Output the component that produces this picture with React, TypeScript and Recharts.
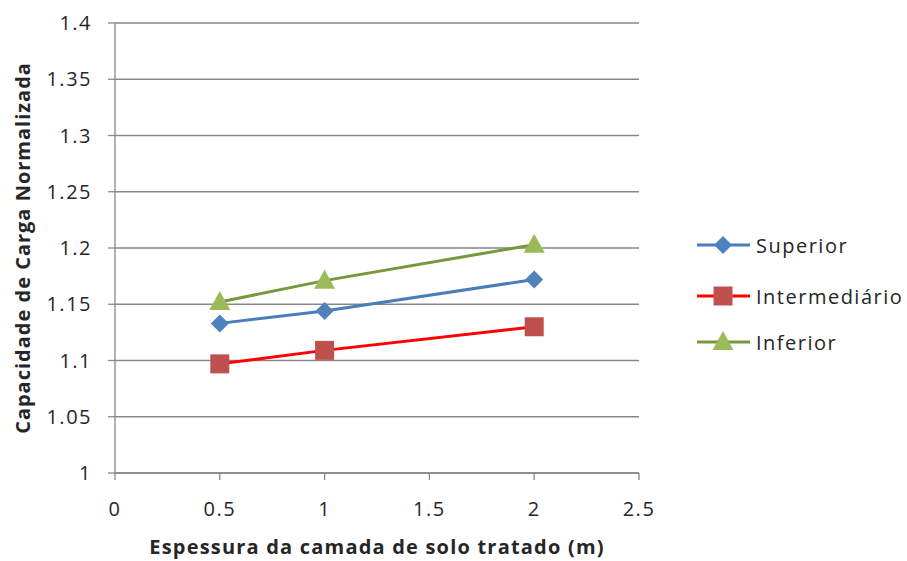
import React from 'react';
import { LineChart, Line, XAxis, YAxis, CartesianGrid } from 'recharts';

const xValues = [0.5, 1, 2];
const superior = [1.133, 1.144, 1.172];
const intermediario = [1.097, 1.109, 1.13];
const inferior = [1.152, 1.171, 1.203];

const xTicks = [0, 0.5, 1, 1.5, 2, 2.5];
const yTicks = [1, 1.05, 1.1, 1.15, 1.2, 1.25, 1.3, 1.35, 1.4];

const seriesNames = ['Superior', 'Intermediário', 'Inferior'];
const xTitle = 'Espessura da camada de solo tratado (m)';
const yTitle = 'Capacidade de Carga Normalizada';

const data = xValues.map((x, i) => ({
  x,
  Superior: superior[i],
  'Intermediário': intermediario[i],
  Inferior: inferior[i],
}));

const FONT = '"Open Sans", sans-serif';
const TEXT = '#262626';
const GRID = '#878787';

const styles: Record<string, { line: string; fill: string; shape: string }> = {
  Superior: { line: '#4A7EBB', fill: '#4F81BD', shape: 'diamond' },
  'Intermediário': { line: '#FF0000', fill: '#C0504D', shape: 'square' },
  Inferior: { line: '#77983D', fill: '#9BBB59', shape: 'triangle' },
};

function Marker({ cx, cy, shape, fill }: { cx: number; cy: number; shape: string; fill: string }) {
  if (cx == null || cy == null || isNaN(cx) || isNaN(cy)) return null;
  if (shape === 'diamond') {
    const r = 9;
    return <path d={`M${cx},${cy - r}L${cx + r},${cy}L${cx},${cy + r}L${cx - r},${cy}Z`} fill={fill} />;
  }
  if (shape === 'square') {
    const h = 9.5;
    return <rect x={cx - h} y={cy - h} width={2 * h} height={2 * h} fill={fill} />;
  }
  const w = 10.5;
  return <path d={`M${cx},${cy - 11}L${cx + w},${cy + 8}L${cx - w},${cy + 8}Z`} fill={fill} />;
}

function makeDot(name: string) {
  const s = styles[name];
  return (props: any) => (
    <Marker key={`${name}-${props.index}`} cx={props.cx} cy={props.cy} shape={s.shape} fill={s.fill} />
  );
}

function LegendBox() {
  return (
    <div style={{ position: 'absolute', left: 695, top: 233, fontFamily: FONT, fontSize: 20, color: TEXT }}>
      {seriesNames.map((n, i) => {
        const s = styles[n];
        return (
          <div key={n} style={{ display: 'flex', alignItems: 'center', height: 24, marginBottom: i === 0 ? 27 : 22 }}>
            <svg width={58} height={24} style={{ display: 'block' }}>
              <line x1={2} y1={12} x2={55} y2={12} stroke={s.line} strokeWidth={3} />
              <Marker cx={28} cy={12} shape={s.shape} fill={s.fill} />
            </svg>
            <span style={{ marginLeft: 3, letterSpacing: 1.5 }}>{n}</span>
          </div>
        );
      })}
    </div>
  );
}

const fmt = (v: number) => String(Number(v.toFixed(2)));

export default function App() {
  return (
    <div style={{ position: 'absolute', left: 0, top: 0, width: 907, height: 561, background: '#fff' }}>
      <LineChart width={907} height={561} data={data} margin={{ top: 23, right: 268, bottom: 3, left: 0 }}>
        <CartesianGrid horizontal={true} vertical={false} stroke={GRID} strokeWidth={1.3} />
        <XAxis
          dataKey="x"
          type="number"
          domain={[0, 2.5]}
          ticks={xTicks}
          tickFormatter={fmt}
          height={85}
          tickSize={7}
          tickMargin={22}
          stroke={GRID}
          strokeWidth={1.3}
          tick={{ fill: TEXT, fontSize: 20, fontFamily: FONT, letterSpacing: 1.5 }}
          label={{
            position: 'insideBottom',
            content: (p: any) => {
              const vb = p.viewBox || { x: 115, y: 473, width: 524, height: 85 };
              const cx = vb.x + vb.width / 2;
              return (
                <text x={cx} y={554} textAnchor="middle" fontFamily={FONT} fontSize={20} fontWeight={700} letterSpacing={1.2} fill={TEXT}>
                  {xTitle}
                </text>
              );
            },
          }}
        />
        <YAxis
          type="number"
          domain={[1, 1.4]}
          ticks={yTicks}
          tickFormatter={fmt}
          width={115}
          tickSize={7}
          tickMargin={16}
          stroke={GRID}
          strokeWidth={1.3}
          interval={0}
          tick={{ fill: TEXT, fontSize: 20, fontFamily: FONT, letterSpacing: 1.5 }}
          label={{
            position: 'center',
            content: (p: any) => {
              const vb = p.viewBox || { x: 0, y: 23, width: 115, height: 450 };
              const cy = vb.y + vb.height / 2;
              const cx = 22;
              return (
                <text
                  x={cx}
                  y={cy}
                  transform={`rotate(-90, ${cx}, ${cy})`}
                  textAnchor="middle"
                  dominantBaseline="central"
                  fontFamily={FONT}
                  fontSize={20}
                  fontWeight={700}
                  letterSpacing={1}
                  fill={TEXT}
                >
                  {yTitle}
                </text>
              );
            },
          }}
        />
        {seriesNames.map((n) => (
          <Line
            key={n}
            dataKey={n}
            name={n}
            type="linear"
            stroke={styles[n].line}
            strokeWidth={3}
            dot={makeDot(n)}
            activeDot={false}
            isAnimationActive={false}
          />
        ))}
      </LineChart>
      <LegendBox />
    </div>
  );
}
